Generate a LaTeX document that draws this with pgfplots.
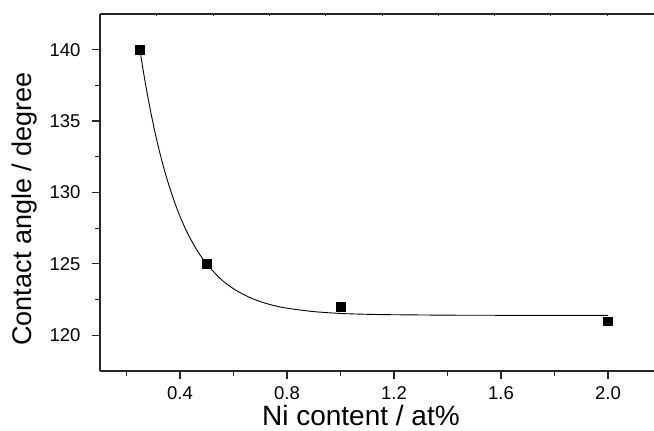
\documentclass[border=0pt]{standalone}
\usepackage{pgfplots}
\pgfplotsset{compat=1.18}
\usepackage{fontspec}
\setmainfont{Liberation Sans}

\begin{document}
\begin{tikzpicture}
\useasboundingbox (-100pt,-60pt) rectangle (554pt,371pt);
% top frame line with its own small ticks
\begin{axis}[
  at={(0pt,0pt)}, anchor=south west,
  scale only axis, width=554pt, height=357pt,
  xmin=0.101, xmax=2.172, ymin=0, ymax=1,
  axis x line*=top, axis y line=none,
  axis line style={line width=1.6pt, black!85},
  xtick={0.314,0.524,0.733,0.943,1.156,1.365,1.574,1.784,1.997},
  xticklabels={},
  tick align=inside, major tick length=2.5pt,
  every tick/.style={line width=1pt, black!85},
]
\end{axis}
\begin{axis}[
  at={(0pt,0pt)}, anchor=south west,
  scale only axis, width=554pt, height=357pt,
  xmin=0.101, xmax=2.172, ymin=117.5, ymax=142.5,
  axis lines*=left,
  axis line style={line width=1.6pt, black!85},
  xtick={0.4,0.8,1.2,1.6,2.0},
  minor xtick={0.2,0.6,1.0,1.4,1.8},
  ytick={120,125,130,135,140},
  minor ytick={122.5,127.5,132.5,137.5},
  tick align=outside,
  major tick length=8pt, minor tick length=5pt,
  every tick/.style={line width=1.2pt, black!85},
  /pgf/number format/assume math mode=true,
  ticklabel style={font=\fontsize{18.5}{20}\selectfont},
  xticklabel style={yshift=-4pt, /pgf/number format/fixed, /pgf/number format/fixed zerofill, /pgf/number format/precision=1},
  yticklabel style={xshift=-8pt},
  xlabel={Ni content / at\%},
  ylabel={Contact angle / degree},
  xlabel style={font=\fontsize{28}{32}\selectfont, at={(axis description cs:0.471,-0.153)}, anchor=base},
  ylabel style={font=\fontsize{27}{32}\selectfont, at={(axis description cs:-0.136,0.454)}, anchor=center},
]
% fitted decay curve
\addplot[black, line width=0.9pt, smooth, no marks] coordinates {
(0.25,140.0) (0.27,137.71) (0.29,135.70) (0.31,133.93) (0.33,132.39)
(0.35,131.03) (0.375,129.58) (0.40,128.33) (0.425,127.28) (0.45,126.39)
(0.475,125.63) (0.50,125.0) (0.55,123.98) (0.60,123.26) (0.65,122.74)
(0.70,122.36) (0.75,122.09) (0.80,121.90) (0.90,121.66) (1.0,121.53)
(1.1,121.47) (1.2,121.44) (1.4,121.41) (1.6,121.40) (2.0,121.40)
};
% measured points
\addplot[only marks, mark=square*, mark size=4.3pt, mark options={fill=black, draw=black, line width=0.4pt}] coordinates {
(0.25,140) (0.5,125) (1.0,122) (2.0,121)
};
\end{axis}
\end{tikzpicture}
\end{document}
